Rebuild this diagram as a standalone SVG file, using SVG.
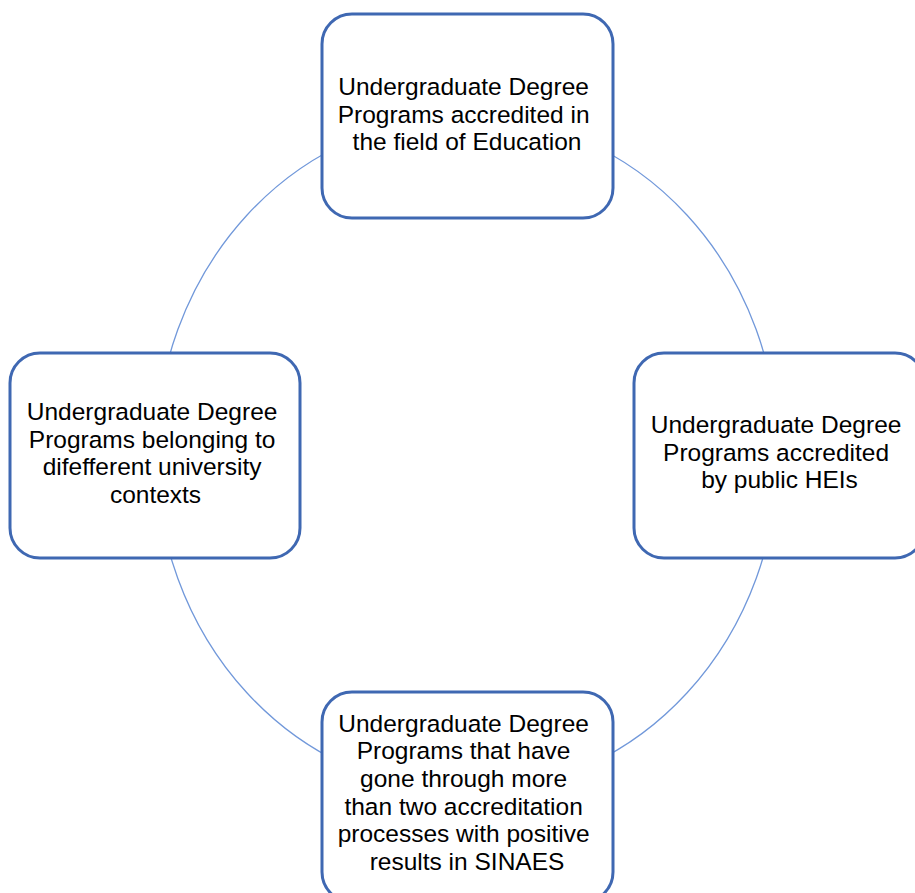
<svg xmlns="http://www.w3.org/2000/svg" width="915" height="893" viewBox="0 0 915 893">
  <style>
    .ring { fill: none; stroke: #7198da; stroke-width: 1.3; }
    .box { fill: #ffffff; stroke: #3f68b2; stroke-width: 3; }
    .label { font-family: "Liberation Sans", Arial, sans-serif; font-size: 24.5px; fill: #000000; text-anchor: middle; }
  </style>
  <rect width="915" height="893" fill="#ffffff"/>

  <!-- cycle ring behind the four nodes -->
  <g id="connectors">
    <ellipse class="ring" cx="467" cy="454" rx="311" ry="338"/>
  </g>

  <g id="node-top">
    <rect class="box" x="322" y="14" width="291" height="204" rx="30" ry="30"/>
    <text class="label" x="467" y="95">
      <tspan x="467" y="95">Undergraduate Degree</tspan>
      <tspan x="467" y="122.6">Programs accredited in</tspan>
      <tspan x="467" y="150.2">the field of Education</tspan>
    </text>
  </g>

  <g id="node-right">
    <rect class="box" x="634" y="353" width="291" height="205" rx="30" ry="30"/>
    <text class="label" x="779.5" y="433">
      <tspan x="779.5" y="433">Undergraduate Degree</tspan>
      <tspan x="779.5" y="460.6">Programs accredited</tspan>
      <tspan x="779.5" y="488.2">by public HEIs</tspan>
    </text>
  </g>

  <g id="node-bottom">
    <rect class="box" x="322" y="692" width="291" height="210" rx="30" ry="30"/>
    <text class="label" x="467" y="731.7">
      <tspan x="467" y="731.7">Undergraduate Degree</tspan>
      <tspan x="467" y="759.3">Programs that have</tspan>
      <tspan x="467" y="786.9">gone through more</tspan>
      <tspan x="467" y="814.5">than two accreditation</tspan>
      <tspan x="467" y="842.1">processes with positive</tspan>
      <tspan x="467" y="869.7">results in SINAES</tspan>
    </text>
  </g>

  <g id="node-left">
    <rect class="box" x="10" y="353" width="290" height="205" rx="30" ry="30"/>
    <text class="label" x="155.5" y="420">
      <tspan x="155.5" y="420">Undergraduate Degree</tspan>
      <tspan x="155.5" y="447.6">Programs belonging to</tspan>
      <tspan x="155.5" y="475.2">difefferent university</tspan>
      <tspan x="155.5" y="502.8">contexts</tspan>
    </text>
  </g>
</svg>
